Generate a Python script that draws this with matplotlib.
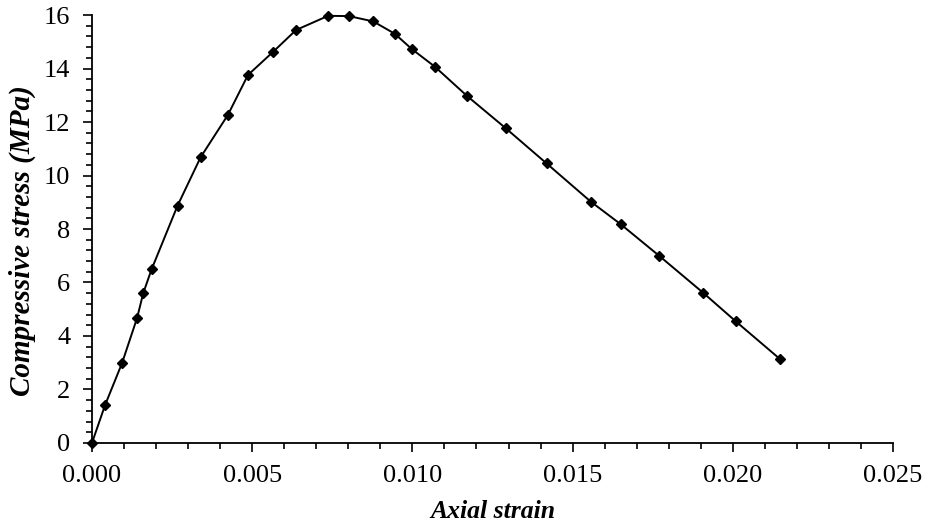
import matplotlib.pyplot as plt
from matplotlib.ticker import MultipleLocator, FormatStrFormatter

# axial strain vs compressive stress (MPa)
strain = [0.0, 0.00041, 0.00094, 0.00141, 0.00160, 0.00186, 0.00267, 0.00339,
          0.00424, 0.00487, 0.00565, 0.00637, 0.00737, 0.00802, 0.00878,
          0.00945, 0.00998, 0.01070, 0.01171, 0.01292, 0.01419, 0.01557,
          0.01650, 0.01770, 0.01908, 0.02009, 0.02147]
stress = [0.0, 1.42, 2.99, 4.68, 5.60, 6.49, 8.87, 10.68,
          12.26, 13.76, 14.62, 15.44, 15.97, 15.96, 15.76,
          15.30, 14.73, 14.07, 12.97, 11.76, 10.45, 9.02,
          8.18, 7.00, 5.61, 4.55, 3.14]

plt.rcParams['font.family'] = ['Liberation Serif', 'DejaVu Serif']

fig = plt.figure(figsize=(9.28, 5.29), dpi=100)
ax = fig.add_axes([0.0991, 0.1626, 0.8632, 0.809])

ax.plot(strain, stress, color='black', lw=1.4, marker='D', ms=5.2,
        mfc='black', mec='black', clip_on=False, zorder=3)

ax.set_xlim(0, 0.025)
ax.set_ylim(0, 16)
ax.xaxis.set_major_locator(MultipleLocator(0.005))
ax.xaxis.set_minor_locator(MultipleLocator(0.001))
ax.xaxis.set_major_formatter(FormatStrFormatter('%.3f'))
ax.yaxis.set_major_locator(MultipleLocator(2))
ax.yaxis.set_minor_locator(MultipleLocator(0.4))

for s in ['top', 'right']:
    ax.spines[s].set_visible(False)
for s in ['left', 'bottom']:
    ax.spines[s].set_linewidth(1.3)

ax.tick_params(which='major', direction='out', length=6.5, width=1.2, labelsize=19)
ax.tick_params(axis='y', which='major', pad=9)
ax.tick_params(axis='x', which='major', pad=9)
ax.tick_params(which='minor', direction='out', length=4.5, width=1.2)

ax.set_xlabel('Axial strain', fontsize=18.5, fontweight='bold', style='italic', labelpad=10)
ax.set_ylabel('Compressive stress (MPa)', fontsize=21, fontweight='bold', style='italic')
ax.yaxis.set_label_coords(-0.07, 0.474)

fig.savefig('out.png', dpi=100)
